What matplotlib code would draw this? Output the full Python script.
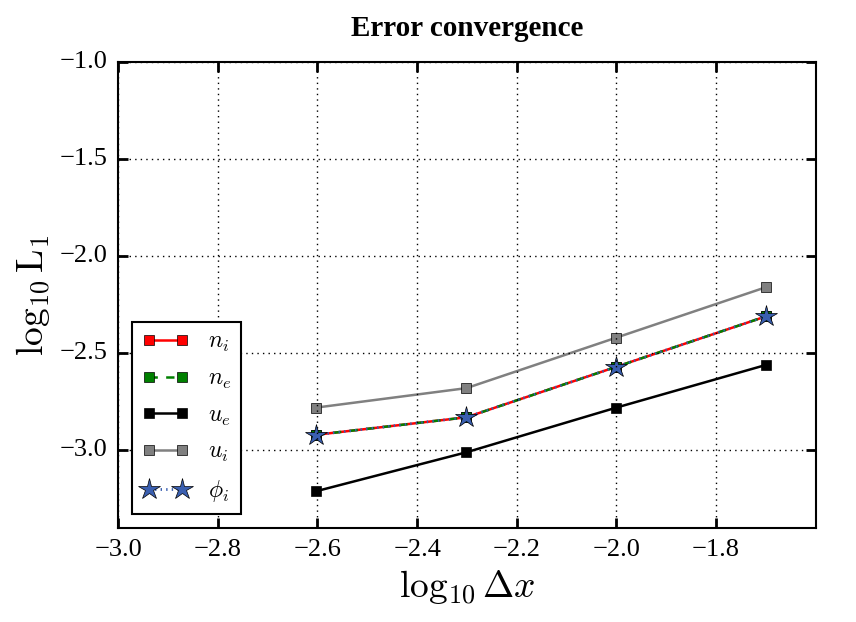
import matplotlib
matplotlib.use("Agg")
import matplotlib.pyplot as plt

plt.style.use("classic")
plt.rcParams["font.family"] = ["Liberation Serif", "DejaVu Serif"]
plt.rcParams["mathtext.fontset"] = "cm"

# Data
dx = [-2.602, -2.301, -2.0, -1.699]
n_i = [-2.92, -2.83, -2.57, -2.31]
n_e = [-2.92, -2.83, -2.57, -2.31]
u_e = [-3.21, -3.01, -2.78, -2.56]
u_i = [-2.78, -2.68, -2.42, -2.16]
phi_i = [-2.92, -2.83, -2.57, -2.31]

fig = plt.figure(figsize=(8.56, 6.22), dpi=100)
ax = fig.add_axes([0.138, 0.151, 0.815, 0.75])

ax.plot(dx, n_i, "-", color="red", lw=1.8, marker="s", ms=7, mfc="red", label=r"$n_i$")
ax.plot(dx, n_e, "--", color="green", lw=1.8, marker="s", ms=7, mfc="green", label=r"$n_e$")
ax.plot(dx, u_e, "-", color="black", lw=1.8, marker="s", ms=7, mfc="black", label=r"$u_e$")
ax.plot(dx, u_i, "-", color="gray", lw=1.8, marker="s", ms=7, mfc="gray", label=r"$u_i$")
ax.plot(dx, phi_i, ":", color="#3a5fb0", lw=2, marker="*", ms=16, mfc="#3a5fb0", label=r"$\phi_i$")

ax.set_xlim(-3.0, -1.6)
ax.set_ylim(-3.4, -1.0)
ax.set_xticks([-3.0, -2.8, -2.6, -2.4, -2.2, -2.0, -1.8])
ax.set_yticks([-3.0, -2.5, -2.0, -1.5, -1.0])
ax.tick_params(labelsize=19, width=2, length=7, pad=8)
for s in ax.spines.values():
    s.set_linewidth(1.5)
ax.grid(True, linestyle=":", color="black", lw=1)

ax.set_xlabel(r"$\log_{10}\Delta x$", fontsize=27)
ax.set_ylabel(r"$\log_{10}\mathrm{L}_1$", fontsize=27)
ax.set_title("Error convergence", fontsize=21, fontweight="bold", y=1.04)

leg = ax.legend(loc="lower left", fontsize=17, numpoints=2, handlelength=2.0,
                borderaxespad=0.6, labelspacing=0.6, fancybox=False)
leg.get_frame().set_linewidth(1.5)

plt.savefig("out.png", dpi=100)
